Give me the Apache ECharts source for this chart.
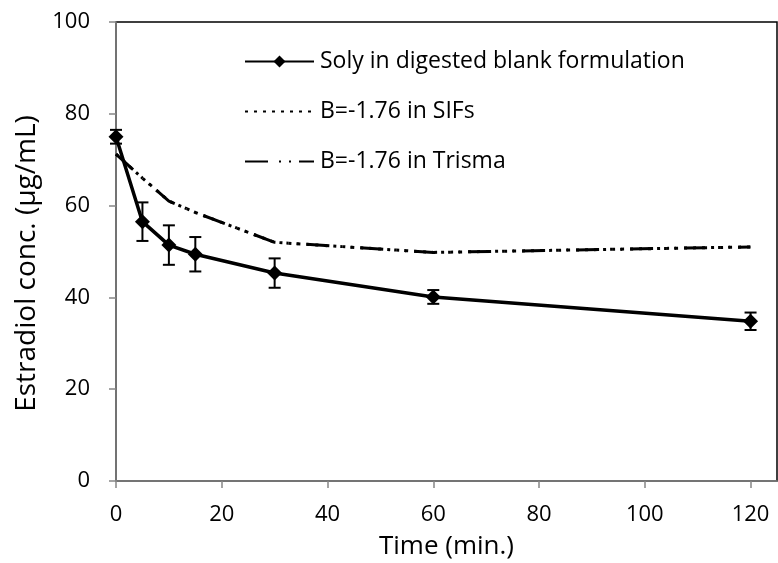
<!DOCTYPE html>
<html>
<head>
<meta charset="utf-8">
<script src="https://cdn.jsdelivr.net/npm/echarts@6/dist/echarts.min.js"></script>
<style>
html,body{margin:0;padding:0;background:#fff;}
#chart{width:778px;height:563px;}
</style>
</head>
<body>
<div id="chart"></div>
<script>
var times = [0, 5, 10, 15, 30, 60, 120];
var soly = [75.0, 56.5, 51.4, 49.4, 45.3, 40.1, 34.8];
var solyErr = [1.5, 4.2, 4.3, 3.75, 3.2, 1.5, 1.9];
var sifs = [71.2, 66.0, 61.0, 58.5, 52.0, 49.8, 51.0];
var trisma = [71.2, 66.0, 61.0, 58.5, 52.0, 49.8, 51.0];
var xTicks = [0, 20, 40, 60, 80, 100, 120];
var yTicks = [0, 20, 40, 60, 80, 100];

var FONT = 'Open Sans';
function pairs(ys) { return times.map(function (t, i) { return [t, ys[i]]; }); }
var errData = times.map(function (t, i) { return [t, soly[i] - solyErr[i], soly[i] + solyErr[i]]; });
var noSym = {color: 'rgba(0,0,0,0)', opacity: 0, borderWidth: 0};

var chart = echarts.init(document.getElementById('chart'), null, {renderer: 'canvas'});
chart.setOption({
  animation: false,
  backgroundColor: '#fff',
  grid: {left: 116, top: 22, right: 1, bottom: 82, show: true, borderColor: '#000', borderWidth: 1.5,
    containLabel: false, outerBoundsMode: 'none'},
  legend: {
    orient: 'vertical', left: 239, top: 45, itemWidth: 69, itemHeight: 15, itemGap: 27,
    textStyle: {fontFamily: FONT, fontSize: 23, color: '#000', padding: [0, 0, 0, 1]},
    data: [
      {name: 'Soly in digested blank formulation'},
      {name: 'B=-1.76 in SIFs', itemStyle: noSym},
      {name: 'B=-1.76 in Trisma', itemStyle: noSym}
    ]
  },
  xAxis: {
    type: 'value', min: 0, max: 125, interval: 20,
    name: 'Time (min.)', nameLocation: 'middle', nameGap: 53,
    nameTextStyle: {fontFamily: FONT, fontSize: 26, color: '#000'},
    axisLine: {show: true, lineStyle: {color: '#868686', width: 1.5}},
    axisTick: {show: true, length: 7, lineStyle: {color: '#868686', width: 1.5}},
    axisLabel: {fontFamily: FONT, fontSize: 22, color: '#000', margin: 23, showMaxLabel: false,
      formatter: function (v) { return xTicks.indexOf(v) >= 0 ? String(v) : ''; }},
    splitLine: {show: false}
  },
  yAxis: {
    type: 'value', min: 0, max: 100, interval: 20,
    name: 'Estradiol conc. (μg/mL)', nameLocation: 'middle', nameGap: 74,
    nameTextStyle: {fontFamily: FONT, fontSize: 28, color: '#000', padding: [0, 24, 0, 0]},
    axisLine: {show: true, lineStyle: {color: '#868686', width: 1.5}},
    axisTick: {show: true, length: 7, lineStyle: {color: '#868686', width: 1.5}},
    axisLabel: {fontFamily: FONT, fontSize: 22, color: '#000', margin: 26,
      formatter: function (v) { return yTicks.indexOf(v) >= 0 ? String(v) : ''; }},
    splitLine: {show: false}
  },
  series: [
    {
      name: 'B=-1.76 in SIFs', type: 'line', data: pairs(sifs), symbol: 'none', z: 2,
      lineStyle: {color: '#000', width: 3, type: [3, 6], cap: 'butt'}, itemStyle: {color: '#000'}
    },
    {
      name: 'B=-1.76 in Trisma', type: 'line', data: pairs(trisma), symbol: 'none', z: 2,
      lineStyle: {color: '#000', width: 3, type: [23, 11, 2, 8, 2, 8]}, itemStyle: {color: '#000'}
    },
    {
      name: 'Soly in digested blank formulation', type: 'line', data: pairs(soly),
      symbol: 'diamond', symbolSize: 15, z: 4,
      lineStyle: {color: '#000', width: 3.5}, itemStyle: {color: '#000'}
    },
    {
      type: 'custom', name: 'err', z: 3, data: errData,
      renderItem: function (params, api) {
        var x = api.value(0);
        var lo = api.coord([x, api.value(1)]);
        var hi = api.coord([x, api.value(2)]);
        var w = 6;
        var st = {stroke: '#000', lineWidth: 2};
        return {type: 'group', children: [
          {type: 'line', shape: {x1: lo[0], y1: lo[1], x2: hi[0], y2: hi[1]}, style: st},
          {type: 'line', shape: {x1: lo[0] - w, y1: lo[1], x2: lo[0] + w, y2: lo[1]}, style: st},
          {type: 'line', shape: {x1: hi[0] - w, y1: hi[1], x2: hi[0] + w, y2: hi[1]}, style: st}
        ]};
      }
    }
  ]
});
</script>
</body>
</html>
